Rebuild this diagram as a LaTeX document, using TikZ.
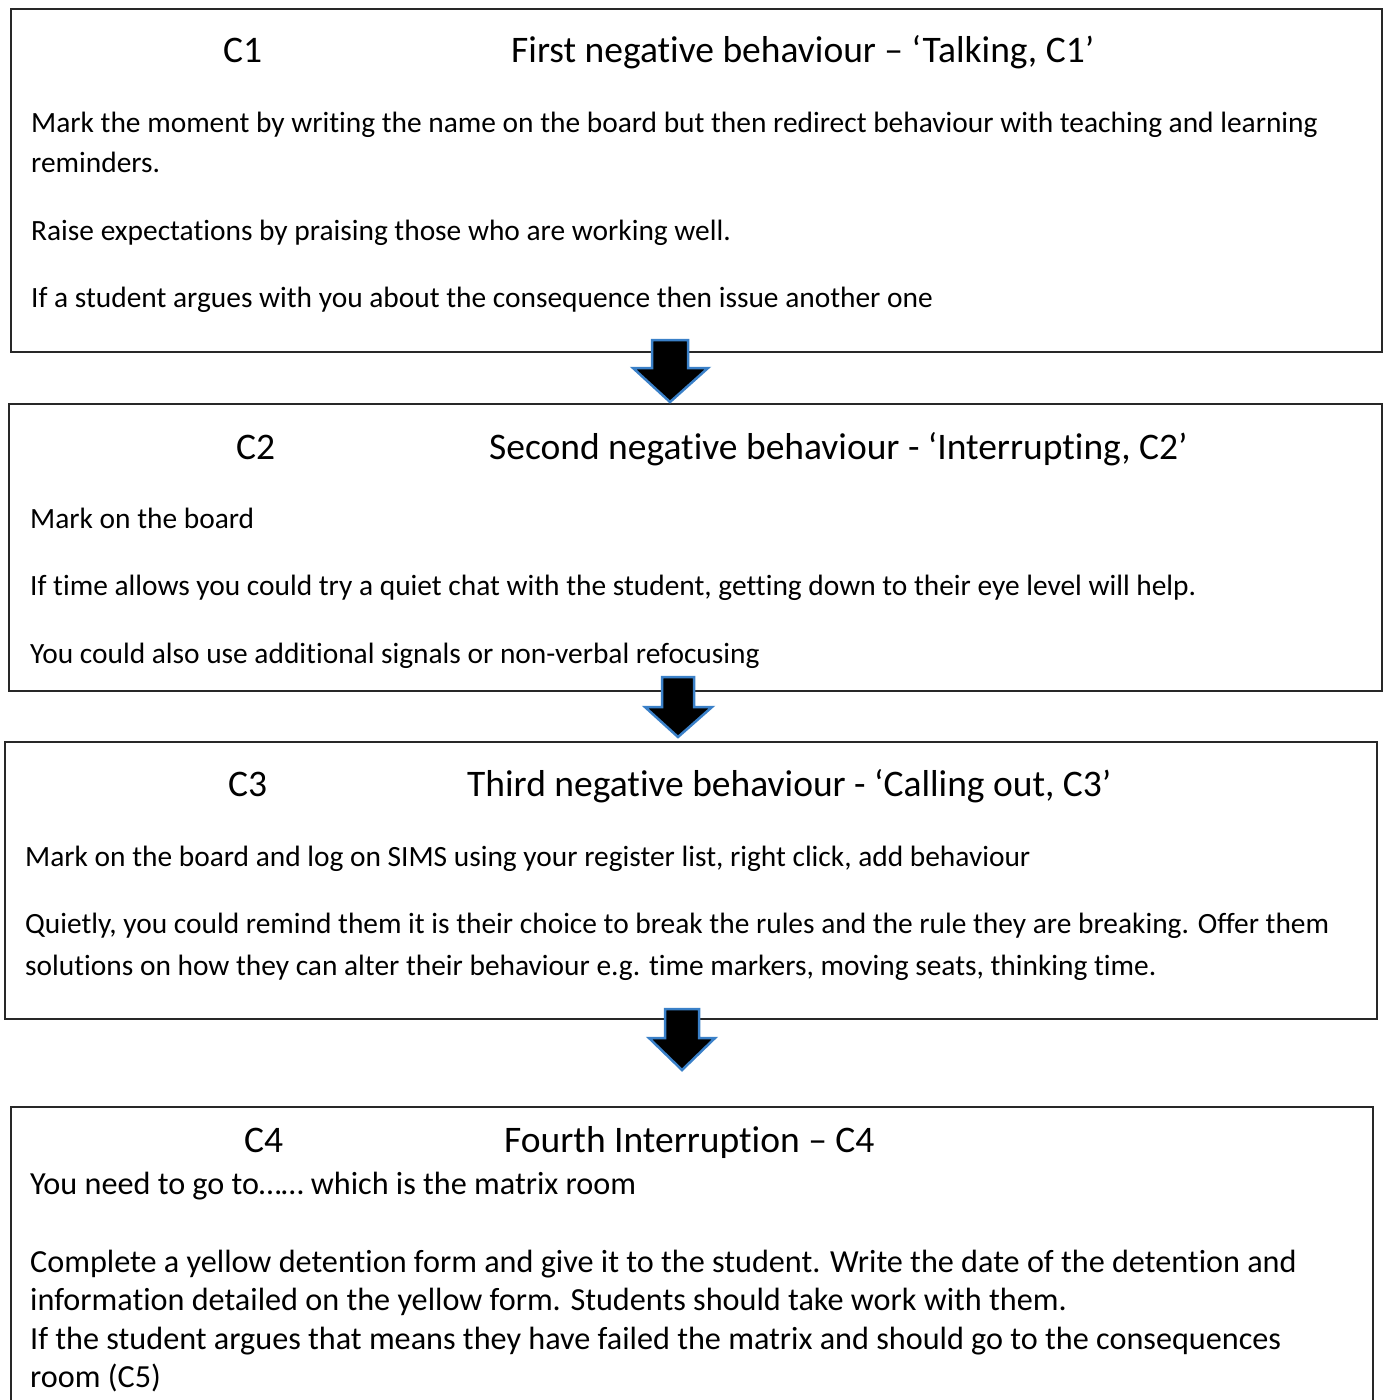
\documentclass[tikz,border=0pt]{standalone}
\usepackage{fontspec}
\setmainfont{Carlito}[Ligatures=NoCommon]
\definecolor{arrowblue}{RGB}{58,128,200}
\definecolor{boxline}{RGB}{40,40,40}
\begin{document}
\begin{tikzpicture}[x=1pt,y=-1pt,
  box/.style={draw=boxline, line width=1.8pt, anchor=north west, inner sep=0pt},
  txt/.style={anchor=base west, inner sep=0pt, font=\fontsize{29.4}{40}\selectfont},
  txtb/.style={anchor=base west, inner sep=0pt, font=\fontsize{32.2}{40}\selectfont},
  head/.style={anchor=base west, inner sep=0pt, font=\fontsize{37.5}{44}\selectfont},
  blockarrow/.style={fill=black, draw=arrowblue, line width=2.5pt, line join=miter}]
\useasboundingbox (0,0) rectangle (1382,1400);
\fill[white] (0,0) rectangle (1382,1400);

% boxes
\node[box, minimum width=1371pt, minimum height=343pt] (b1) at (10,8) {};
\node[box, minimum width=1373pt, minimum height=287pt] (b2) at (8,403) {};
\node[box, minimum width=1372pt, minimum height=277pt] (b3) at (4,741) {};
\node[box, minimum width=1362pt, minimum height=330pt] (b4) at (10,1106) {};

% block arrows
\draw[blockarrow] (652,340) -- (688,340) -- (688,368) -- (708,368) -- (670,402) -- (633,368) -- (652,368) -- cycle;
\draw[blockarrow] (662,677) -- (694,677) -- (694,707) -- (712,707) -- (678,737) -- (645,707) -- (662,707) -- cycle;
\draw[blockarrow] (665,1009) -- (699,1009) -- (699,1038) -- (715,1038) -- (682,1070) -- (649,1038) -- (665,1038) -- cycle;

% box 1
\node[head] (c1) at (223,62) {C1};
\node[head] (h1) at (511,62) {First negative behaviour – ‘Talking, C1’};
\node[txt] (t11) at (31,132) {Mark the moment by writing the name on the board but then redirect behaviour with teaching and learning};
\node[txt] (t12) at (31,172) {reminders.};
\node[txt] (t13) at (31,240) {Raise expectations by praising those who are working well.};
\node[txt] (t14) at (31,307) {If a student argues with you about the consequence then issue another one};

% box 2
\node[head] (c2) at (236,459) {C2};
\node[head] (h2) at (489,459) {Second negative behaviour - ‘Interrupting, C2’};
\node[txt] (t21) at (30,528) {Mark on the board};
\node[txt] (t22) at (30,595) {If time allows you could try a quiet chat with the student, getting down to their eye level will help.};
\node[txt] (t23) at (30,663) {You could also use additional signals or non-verbal refocusing};

% box 3
\node[head] (c3) at (228,796) {C3};
\node[head] (h3) at (467,796) {Third negative behaviour - ‘Calling out, C3’};
\node[txt] (t31) at (25,866) {Mark on the board and log on SIMS using your register list, right click, add behaviour};
\node[txt] (t32) at (25,933) {Quietly, you could remind them it is their choice to break the rules and the rule they are breaking. Offer them};
\node[txt] (t33) at (25,975) {solutions on how they can alter their behaviour e.g. time markers, moving seats, thinking time.};

% box 4
\node[head] (c4) at (244,1152) {C4};
\node[head] (h4) at (504,1152) {Fourth Interruption – C4};
\node[txtb] (t41) at (30,1194) {You need to go to…… which is the matrix room};
\node[txtb] (t42) at (30,1272) {Complete a yellow detention form and give it to the student. Write the date of the detention and};
\node[txtb] (t43) at (30,1310) {information detailed on the yellow form. Students should take work with them.};
\node[txtb] (t44) at (30,1349) {If the student argues that means they have failed the matrix and should go to the consequences};
\node[txtb] (t45) at (30,1387) {room (C5)};
\end{tikzpicture}
\end{document}
